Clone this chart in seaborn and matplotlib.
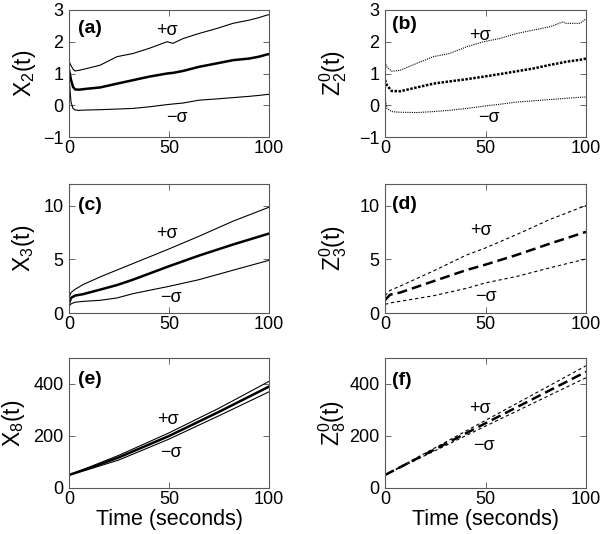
import numpy as np
import pandas as pd
import matplotlib
matplotlib.use("Agg")
import matplotlib.pyplot as plt
import seaborn as sns

# (a) X_2(t)
t_a = [0, 1, 2, 3, 5, 9, 15.5, 24, 32, 40, 49, 52, 57, 65, 74, 82, 90, 95, 99, 100]
x2_up = [1.38, 1.25, 1.14, 1.08, 1.1, 1.16, 1.26, 1.53, 1.63, 1.79, 2.0, 1.95, 2.1, 2.26, 2.42, 2.58, 2.68, 2.76, 2.84, 2.85]
x2_mid = [1.12, 0.8, 0.58, 0.5, 0.49, 0.52, 0.56, 0.68, 0.79, 0.9, 1.0, 1.02, 1.08, 1.21, 1.32, 1.42, 1.47, 1.53, 1.6, 1.61]
x2_low = [0.9, 0.1, -0.1, -0.15, -0.16, -0.15, -0.14, -0.12, -0.1, -0.05, 0.02, 0.04, 0.07, 0.16, 0.2, 0.24, 0.28, 0.31, 0.34, 0.34]

# (b) Z^0_2(t)
t_b = [0, 1, 3.3, 7.5, 15.8, 24, 32, 40.6, 49, 57, 65.5, 74, 82, 88.7, 90, 97, 100]
z2_up = [1.35, 1.2, 1.07, 1.1, 1.32, 1.53, 1.63, 1.84, 2.0, 2.1, 2.26, 2.37, 2.47, 2.63, 2.58, 2.58, 2.72]
z2_mid = [0.8, 0.63, 0.45, 0.44, 0.56, 0.68, 0.75, 0.82, 0.9, 0.98, 1.07, 1.16, 1.27, 1.35, 1.37, 1.43, 1.47]
z2_low = [0.2, -0.1, -0.2, -0.22, -0.23, -0.2, -0.16, -0.1, -0.03, 0.03, 0.1, 0.14, 0.18, 0.21, 0.22, 0.25, 0.26]

# (c) X_3(t)
t_c = [0, 1, 3, 7, 15.5, 24, 32, 50, 65, 82, 100]
x3_up = [1.4, 1.9, 2.2, 2.64, 3.35, 4.0, 4.6, 5.96, 7.14, 8.54, 9.84]
x3_mid = [0.9, 1.4, 1.62, 1.75, 2.17, 2.6, 3.1, 4.35, 5.34, 6.37, 7.39]
x3_low = [0.6, 0.85, 1.0, 1.08, 1.18, 1.4, 1.8, 2.48, 3.1, 3.98, 4.9]

# (d) Z^0_3(t)
t_d = [0, 2.5, 7.5, 24, 40.6, 50, 65.5, 82, 100]
z3_up = [1.6, 2.1, 2.5, 3.9, 5.4, 6.05, 7.3, 8.7, 10.0]
z3_mid = [1.2, 1.7, 1.9, 2.95, 4.0, 4.5, 5.4, 6.45, 7.55]
z3_low = [0.8, 0.93, 1.09, 1.6, 2.3, 2.8, 3.4, 4.2, 5.03]

# (e) X_8(t)
t_e = [0, 10, 25, 50, 75, 100]
x8_up = [50, 80, 126, 212, 307, 410]
x8_mid = [50, 76, 118, 200, 293, 390]
x8_low = [50, 72, 108, 188, 278, 370]

# (f) Z^0_8(t)
t_f = [0, 50, 100]
z8_up = [50, 260, 470]
z8_mid = [50, 249, 447]
z8_low = [50, 238, 424]

sns.set_style("ticks")
plt.rcParams['font.family'] = ['Liberation Sans', 'DejaVu Sans']
plt.rcParams['mathtext.fontset'] = 'custom'
plt.rcParams['mathtext.rm'] = 'Liberation Sans'
plt.rcParams['mathtext.it'] = 'Liberation Sans:italic'
plt.rcParams['mathtext.bf'] = 'Liberation Sans:bold'
plt.rcParams['text.color'] = 'k'
plt.rcParams['axes.labelcolor'] = 'k'

fig = plt.figure(figsize=(6, 5.34), dpi=100)

W, H = 600.0, 534.0
cols = [(69, 269), (385, 586)]
rows = [(10, 137), (184, 313), (358, 488)]

panels = [
    dict(t=t_a, s=(x2_up, x2_mid, x2_low), lab='(a)', yl=r'$\mathrm{X_2(t)}$', ylim=(-1, 3), yt=[-1, 0, 1, 2, 3],
         pos=(4.5, 2.42), up=(49, 2.35), lo=(54, -0.4), lx=-0.155),
    dict(t=t_b, s=(z2_up, z2_mid, z2_low), lab='(b)', yl=r'$\mathrm{Z_2^0(t)}$', ylim=(-1, 3), yt=[-1, 0, 1, 2, 3],
         pos=(3.5, 2.53), up=(47, 2.2), lo=(51.5, -0.4), lx=-0.18),
    dict(t=t_c, s=(x3_up, x3_mid, x3_low), lab='(c)', yl=r'$\mathrm{X_3(t)}$', ylim=(0, 12), yt=[0, 5, 10],
         pos=(4.5, 10.0), up=(49, 7.4), lo=(51, 1.45), lx=-0.16),
    dict(t=t_d, s=(z3_up, z3_mid, z3_low), lab='(d)', yl=r'$\mathrm{Z_3^0(t)}$', ylim=(0, 12), yt=[0, 5, 10],
         pos=(3.5, 10.1), up=(47.5, 7.7), lo=(50, 1.5), lx=-0.18),
    dict(t=t_e, s=(x8_up, x8_mid, x8_low), lab='(e)', yl=r'$\mathrm{X_8(t)}$', ylim=(0, 500), yt=[0, 200, 400],
         pos=(4.5, 417), up=(49.5, 262), lo=(51, 135), lx=-0.21),
    dict(t=t_f, s=(z8_up, z8_mid, z8_low), lab='(f)', yl=r'$\mathrm{Z_8^0(t)}$', ylim=(0, 500), yt=[0, 200, 400],
         pos=(3.5, 414), up=(47, 307), lo=(49, 165), lx=-0.185),
]

for i, p in enumerate(panels):
    r, c = divmod(i, 2)
    x0, x1 = cols[c]
    y0, y1 = rows[r]
    ax = fig.add_axes([x0 / W, 1 - y1 / H, (x1 - x0) / W, (y1 - y0) / H])
    up, mid, low = p['s']
    thin = 0.8
    thick = 1.8
    # right column: simulated Z curves drawn dotted / dashed
    if c == 1 and r == 0:
        dsh_thin, dsh_mid = (0, (1, 1)), (0, (1, 0.6))
    elif c == 1:
        dsh_thin, dsh_mid = (0, (3, 2.5)), (0, (4, 2))
    else:
        dsh_thin, dsh_mid = '-', '-'
    sns.lineplot(x=p['t'], y=up, ax=ax, color='k', lw=thin, linestyle=dsh_thin)
    sns.lineplot(x=p['t'], y=mid, ax=ax, color='k', lw=thick, linestyle=dsh_mid)
    sns.lineplot(x=p['t'], y=low, ax=ax, color='k', lw=thin, linestyle=dsh_thin)

    ax.set_xlim(0, 100)
    ax.set_ylim(*p['ylim'])
    ax.set_xticks([0, 50, 100])
    ax.set_yticks(p['yt'])
    ax.tick_params(direction='in', top=True, right=True, length=4, width=0.6,
                   labelsize=13, color='0.3', labelcolor='k')
    ax.tick_params(axis='x', pad=2)
    ax.tick_params(axis='y', pad=4)
    for sp in ax.spines.values():
        sp.set_linewidth(0.8)
        sp.set_color('0.35')
    ax.set_ylabel(p['yl'], fontsize=16.5)
    ax.yaxis.set_label_coords(p['lx'], 0.5)
    if r == 2:
        ax.set_xlabel('Time (seconds)', fontsize=15.5, labelpad=1)
    ax.text(p['pos'][0], p['pos'][1], p['lab'], fontsize=14, fontweight='bold', ha='left', va='center')
    ax.text(p['up'][0], p['up'][1], '+σ', fontsize=13, ha='center', va='center')
    ax.text(p['lo'][0], p['lo'][1], '−σ', fontsize=13, ha='center', va='center')

fig.savefig('out.png', dpi=100)
